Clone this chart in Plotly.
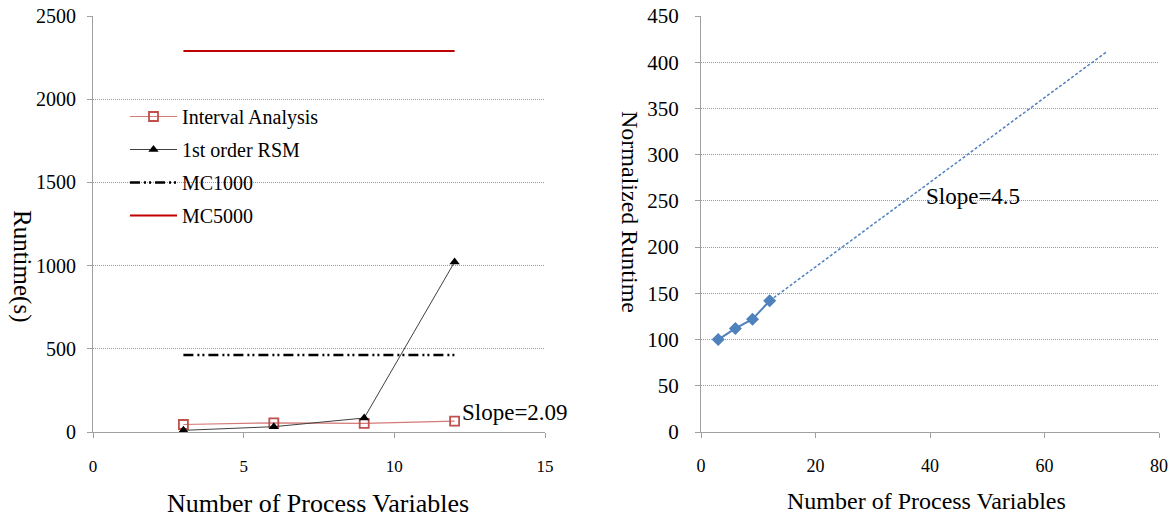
import plotly.graph_objects as go

# ---- data ----
process_vars = [3, 6, 9, 12]
interval_analysis = [45, 55, 52, 65]
rsm_first_order = [10, 32, 84, 1022]
mc_x = [3, 12]
mc1000 = [463, 463]
mc5000 = [2290, 2290]

norm_runtime = [100, 112, 122, 142]
trend_x = [12, 71]
trend_y = [142, 412]

left_xticks = [0, 5, 10, 15]
left_yticks = [0, 500, 1000, 1500, 2000, 2500]
right_xticks = [0, 20, 40, 60, 80]
right_yticks = [0, 50, 100, 150, 200, 250, 300, 350, 400, 450]

FONT = "Liberation Serif, Times New Roman, serif"
GRID = "#9a9a9a"
AXIS = "#a0a0a0"

fig = go.Figure()

fig.add_trace(go.Scatter(x=process_vars, y=interval_analysis, name="Interval Analysis",
                         mode="lines+markers", legendgroup="a",
                         line=dict(color="#D47A77", width=1.2),
                         marker=dict(symbol="square-open", size=9, color="#C0504D",
                                     line=dict(width=1.8, color="#C0504D")),
                         xaxis="x", yaxis="y"))
fig.add_trace(go.Scatter(x=process_vars, y=rsm_first_order, name="1st order RSM",
                         mode="lines+markers", legendgroup="b",
                         line=dict(color="#404040", width=1),
                         marker=dict(symbol="triangle-up", size=9, color="black"),
                         xaxis="x", yaxis="y"))
fig.add_trace(go.Scatter(x=mc_x, y=mc1000, name="MC1000", mode="lines", legendgroup="c",
                         line=dict(color="black", width=2.5, dash="10px,4px,2px,3px,2px,4px"),
                         xaxis="x", yaxis="y"))
fig.add_trace(go.Scatter(x=mc_x, y=mc5000, name="MC5000", mode="lines", legendgroup="d",
                         line=dict(color="#C00000", width=2),
                         xaxis="x", yaxis="y"))

fig.add_trace(go.Scatter(x=trend_x, y=trend_y, mode="lines", showlegend=False,
                         line=dict(color="#4F81BD", width=1.5, dash="3px,2px"),
                         xaxis="x2", yaxis="y2"))
fig.add_trace(go.Scatter(x=process_vars, y=norm_runtime, mode="lines+markers", showlegend=False,
                         line=dict(color="#4F81BD", width=2),
                         marker=dict(symbol="diamond", size=10, color="#4F81BD"),
                         xaxis="x2", yaxis="y2"))


def ax(size, standoff, **kw):
    d = dict(showline=True, linecolor=AXIS, linewidth=1, ticks="outside",
             ticklen=5, tickcolor=AXIS, zeroline=False, automargin=False,
             ticklabelstandoff=standoff,
             tickfont=dict(family=FONT, size=size, color="black"))
    d.update(kw)
    return d


grid = dict(showgrid=True, gridcolor=GRID, griddash="1px,1px", gridwidth=1)

fig.update_layout(
    width=1175, height=519,
    margin=dict(l=0, r=0, t=0, b=0, autoexpand=False),
    paper_bgcolor="white", plot_bgcolor="white",
    font=dict(family=FONT, color="black"),
    xaxis=ax(17, 14, domain=[93/1175, 545/1175], range=[0, 15], tickvals=left_xticks,
             showgrid=False, anchor="y"),
    yaxis=ax(20, 7, domain=[1-432/519, 1-16/519], range=[0, 2500], tickvals=left_yticks,
             anchor="x", **grid),
    xaxis2=ax(18, 12, domain=[701/1175, 1159/1175], range=[0, 80], tickvals=right_xticks,
              showgrid=False, anchor="y2"),
    yaxis2=ax(21, 12, domain=[1-432/519, 1-16/519], range=[0, 450], tickvals=right_yticks,
              anchor="x2", **grid),
    legend=dict(x=125/1175, y=1-97/519, xanchor="left", yanchor="top",
                bgcolor="rgba(0,0,0,0)", font=dict(family=FONT, size=20),
                tracegroupgap=4, itemwidth=47),
    showlegend=True,
)

ann = [
    dict(text="Runtime(s)", x=22/1175, y=1-266/519, textangle=90, size=25),
    dict(text="Normalized Runtime", x=630/1175, y=1-212/519, textangle=90, size=24),
    dict(text="Number of Process Variables", x=318/1175, y=1-503/519, textangle=0, size=26),
    dict(text="Number of Process Variables", x=926/1175, y=1-501/519, textangle=0, size=24),
]
for a in ann:
    fig.add_annotation(text=a["text"], x=a["x"], y=a["y"], xref="paper", yref="paper",
                       showarrow=False, textangle=a["textangle"],
                       font=dict(family=FONT, size=a["size"], color="black"),
                       xanchor="center", yanchor="middle")

fig.add_annotation(text="Slope=2.09", x=460/1175, y=1-412/519, xref="paper", yref="paper",
                   showarrow=False, xanchor="left", yanchor="middle",
                   font=dict(family=FONT, size=23, color="black"))
fig.add_annotation(text="Slope=4.5", x=924/1175, y=1-196/519, xref="paper", yref="paper",
                   showarrow=False, xanchor="left", yanchor="middle",
                   font=dict(family=FONT, size=23, color="black"))

fig.write_html("out.html")
